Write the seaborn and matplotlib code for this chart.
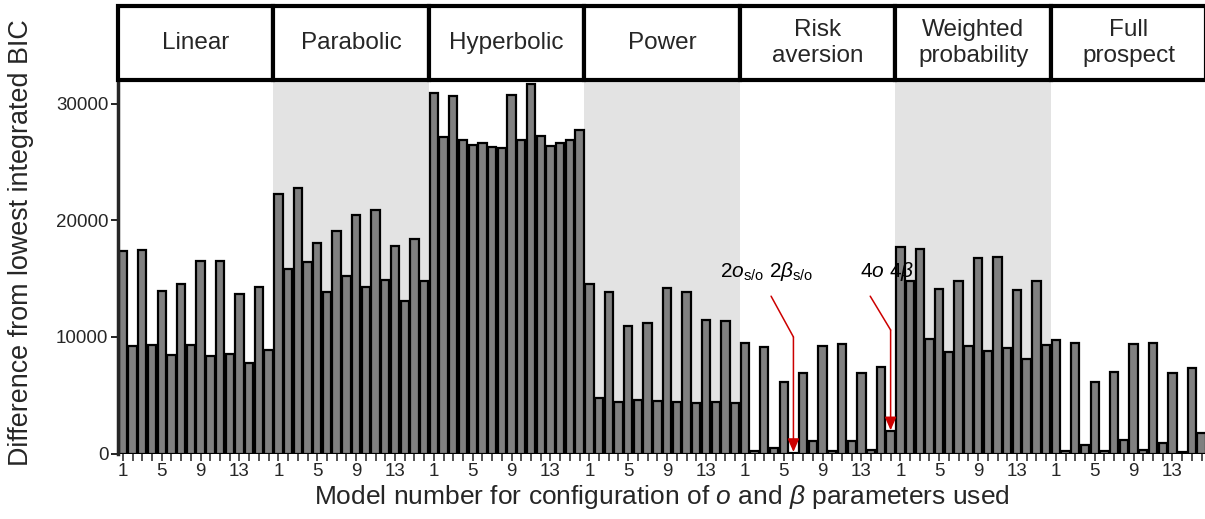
import numpy as np
import pandas as pd
import matplotlib
matplotlib.use("Agg")
import matplotlib.pyplot as plt
from matplotlib.patches import Rectangle
import seaborn as sns

groups = ["Linear", "Parabolic", "Hyperbolic", "Power", "Risk\naversion",
          "Weighted\nprobability", "Full\nprospect"]
linear = [17400, 9230, 17430, 9340, 13940, 8430, 14510, 9290,
          16490, 8400, 16490, 8540, 13660, 7740, 14290, 8910]
parabolic = [22310, 15800, 22800, 16430, 18030, 13830, 19090, 15260,
             20490, 14260, 20910, 14910, 17770, 13060, 18400, 14800]
hyperbolic = [30970, 27200, 30660, 26890, 26510, 26660, 26290, 26200,
              30800, 26940, 31710, 27260, 26400, 26630, 26860, 27800]
power = [14570, 4770, 13860, 4430, 10940, 4600, 11230, 4490,
         14200, 4430, 13830, 4370, 11430, 4400, 11400, 4370]
risk = [9510, 200, 9110, 490, 6140, 50, 6940, 1090,
        9260, 200, 9430, 1060, 6890, 290, 7430, 1910]
weighted = [17710, 14770, 17570, 9860, 14140, 8690, 14770, 9260,
            16770, 8770, 16830, 9090, 14060, 8110, 14770, 9310]
full = [9710, 230, 9460, 740, 6170, 230, 7000, 1140,
        9370, 340, 9460, 940, 6910, 170, 7370, 1800]
model_tick_labels = ["1", "5", "9", "13"]
annot_labels = [r"2$o_{\rm s/o}$ 2$\beta_{\rm s/o}$", r"4$o$ 4$\beta$"]
annot_targets = [("Risk\naversion", 6), ("Risk\naversion", 16)]

series = [linear, parabolic, hyperbolic, power, risk, weighted, full]
n_per = 16
rows = []
for gi, (g, vals) in enumerate(zip(groups, series)):
    for mi, v in enumerate(vals):
        rows.append({"pos": gi * n_per + mi, "group": g, "model": mi + 1, "value": v})
df = pd.DataFrame(rows)

sns.set_theme(style="ticks")
plt.rcParams["font.family"] = ["Liberation Sans", "DejaVu Sans"]
plt.rcParams["mathtext.fontset"] = "custom"
plt.rcParams["mathtext.rm"] = "Liberation Sans"
plt.rcParams["mathtext.it"] = "Liberation Sans:italic"

W, H = 1205, 519
fig = plt.figure(figsize=(W / 100, H / 100), dpi=100)
left_px, right_px = 118, 1205
top_px, base_px = 80, 453.5
ax = fig.add_axes([left_px / W, (H - base_px) / H, (right_px - left_px) / W, (base_px - top_px) / H])
sax = fig.add_axes([left_px / W, (H - top_px) / H, (right_px - left_px) / W, (top_px - 6) / H])

ngr = len(groups)
xmax = ngr * n_per - 0.5 - 0.15
for gi in range(ngr):
    if gi % 2 == 1:
        ax.axvspan(gi * n_per - 0.5, gi * n_per + n_per - 0.5, color="#e3e3e3", zorder=0, lw=0)

sns.barplot(data=df, x="pos", y="value", color="#808080", saturation=1, width=0.86,
            edgecolor="black", linewidth=1.6, ax=ax, zorder=2, errorbar=None)
ax.set_xlim(-0.5, xmax)
ax.set_ylim(0, 32050)
ax.set_yticks([0, 10000, 20000, 30000])
ax.set_yticklabels(["0", "10000", "20000", "30000"], fontsize=13.5)
ticks, labels = [], []
for gi in range(ngr):
    for mi in range(n_per):
        ticks.append(gi * n_per + mi)
        labels.append(str(mi + 1) if str(mi + 1) in model_tick_labels else "")
ax.set_xticks(ticks)
ax.set_xticklabels(labels, fontsize=13.5)
ax.tick_params(axis="x", length=5, width=1.2, color="#333333", pad=2)
ax.tick_params(axis="y", length=5, width=1.2, color="black", pad=2)
for s in ["top", "right", "bottom"]:
    ax.spines[s].set_visible(False)
ax.spines["left"].set_linewidth(2.5)
ax.set_xlabel(r"Model number for configuration of $o$ and $\beta$ parameters used", fontsize=19, labelpad=2)
ax.set_ylabel("Difference from lowest integrated BIC", fontsize=19.4, labelpad=8)
ax.yaxis.set_label_coords(-0.077, 0.565)
ax.patch.set_alpha(0)

# strips
sax.set_xlim(-0.5, xmax)
sax.set_ylim(0, 1)
sax.axis("off")
for gi, g in enumerate(groups):
    sax.add_patch(Rectangle((gi * n_per - 0.5, 0), n_per, 1, facecolor="white",
                            edgecolor="black", lw=3, clip_on=False))
    sax.text(gi * n_per + (n_per - 1) / 2, 0.5, g, ha="center", va="center",
             fontsize=17.5, linespacing=1.25)

# annotations
red = "#cc0000"
text_dx = {6: -2.7, 16: -0.4}
bend = {6: 10000, 16: 10600}
start_dx = {6: -2.3, 16: -2.1}
for lab, (g, m) in zip(annot_labels, annot_targets):
    gi = groups.index(g)
    vals = series[gi]
    x_bar = gi * n_per + (m - 1)
    v = vals[m - 1]
    bend_y = bend[m]
    start = (x_bar + start_dx[m], 13500)
    ax.text(x_bar + text_dx[m], 14600, lab, ha="center", va="bottom",
            fontsize=15, color="black")
    ax.plot([start[0], x_bar], [start[1], bend_y], color=red, lw=1.1, zorder=5)
    ax.annotate("", xy=(x_bar, v + 80), xytext=(x_bar, bend_y),
                arrowprops=dict(arrowstyle="-|>,head_length=0.8,head_width=0.35",
                                color=red, lw=1.1, mutation_scale=10, shrinkA=0, shrinkB=0),
                zorder=5)

fig.savefig("out.png", dpi=100)
